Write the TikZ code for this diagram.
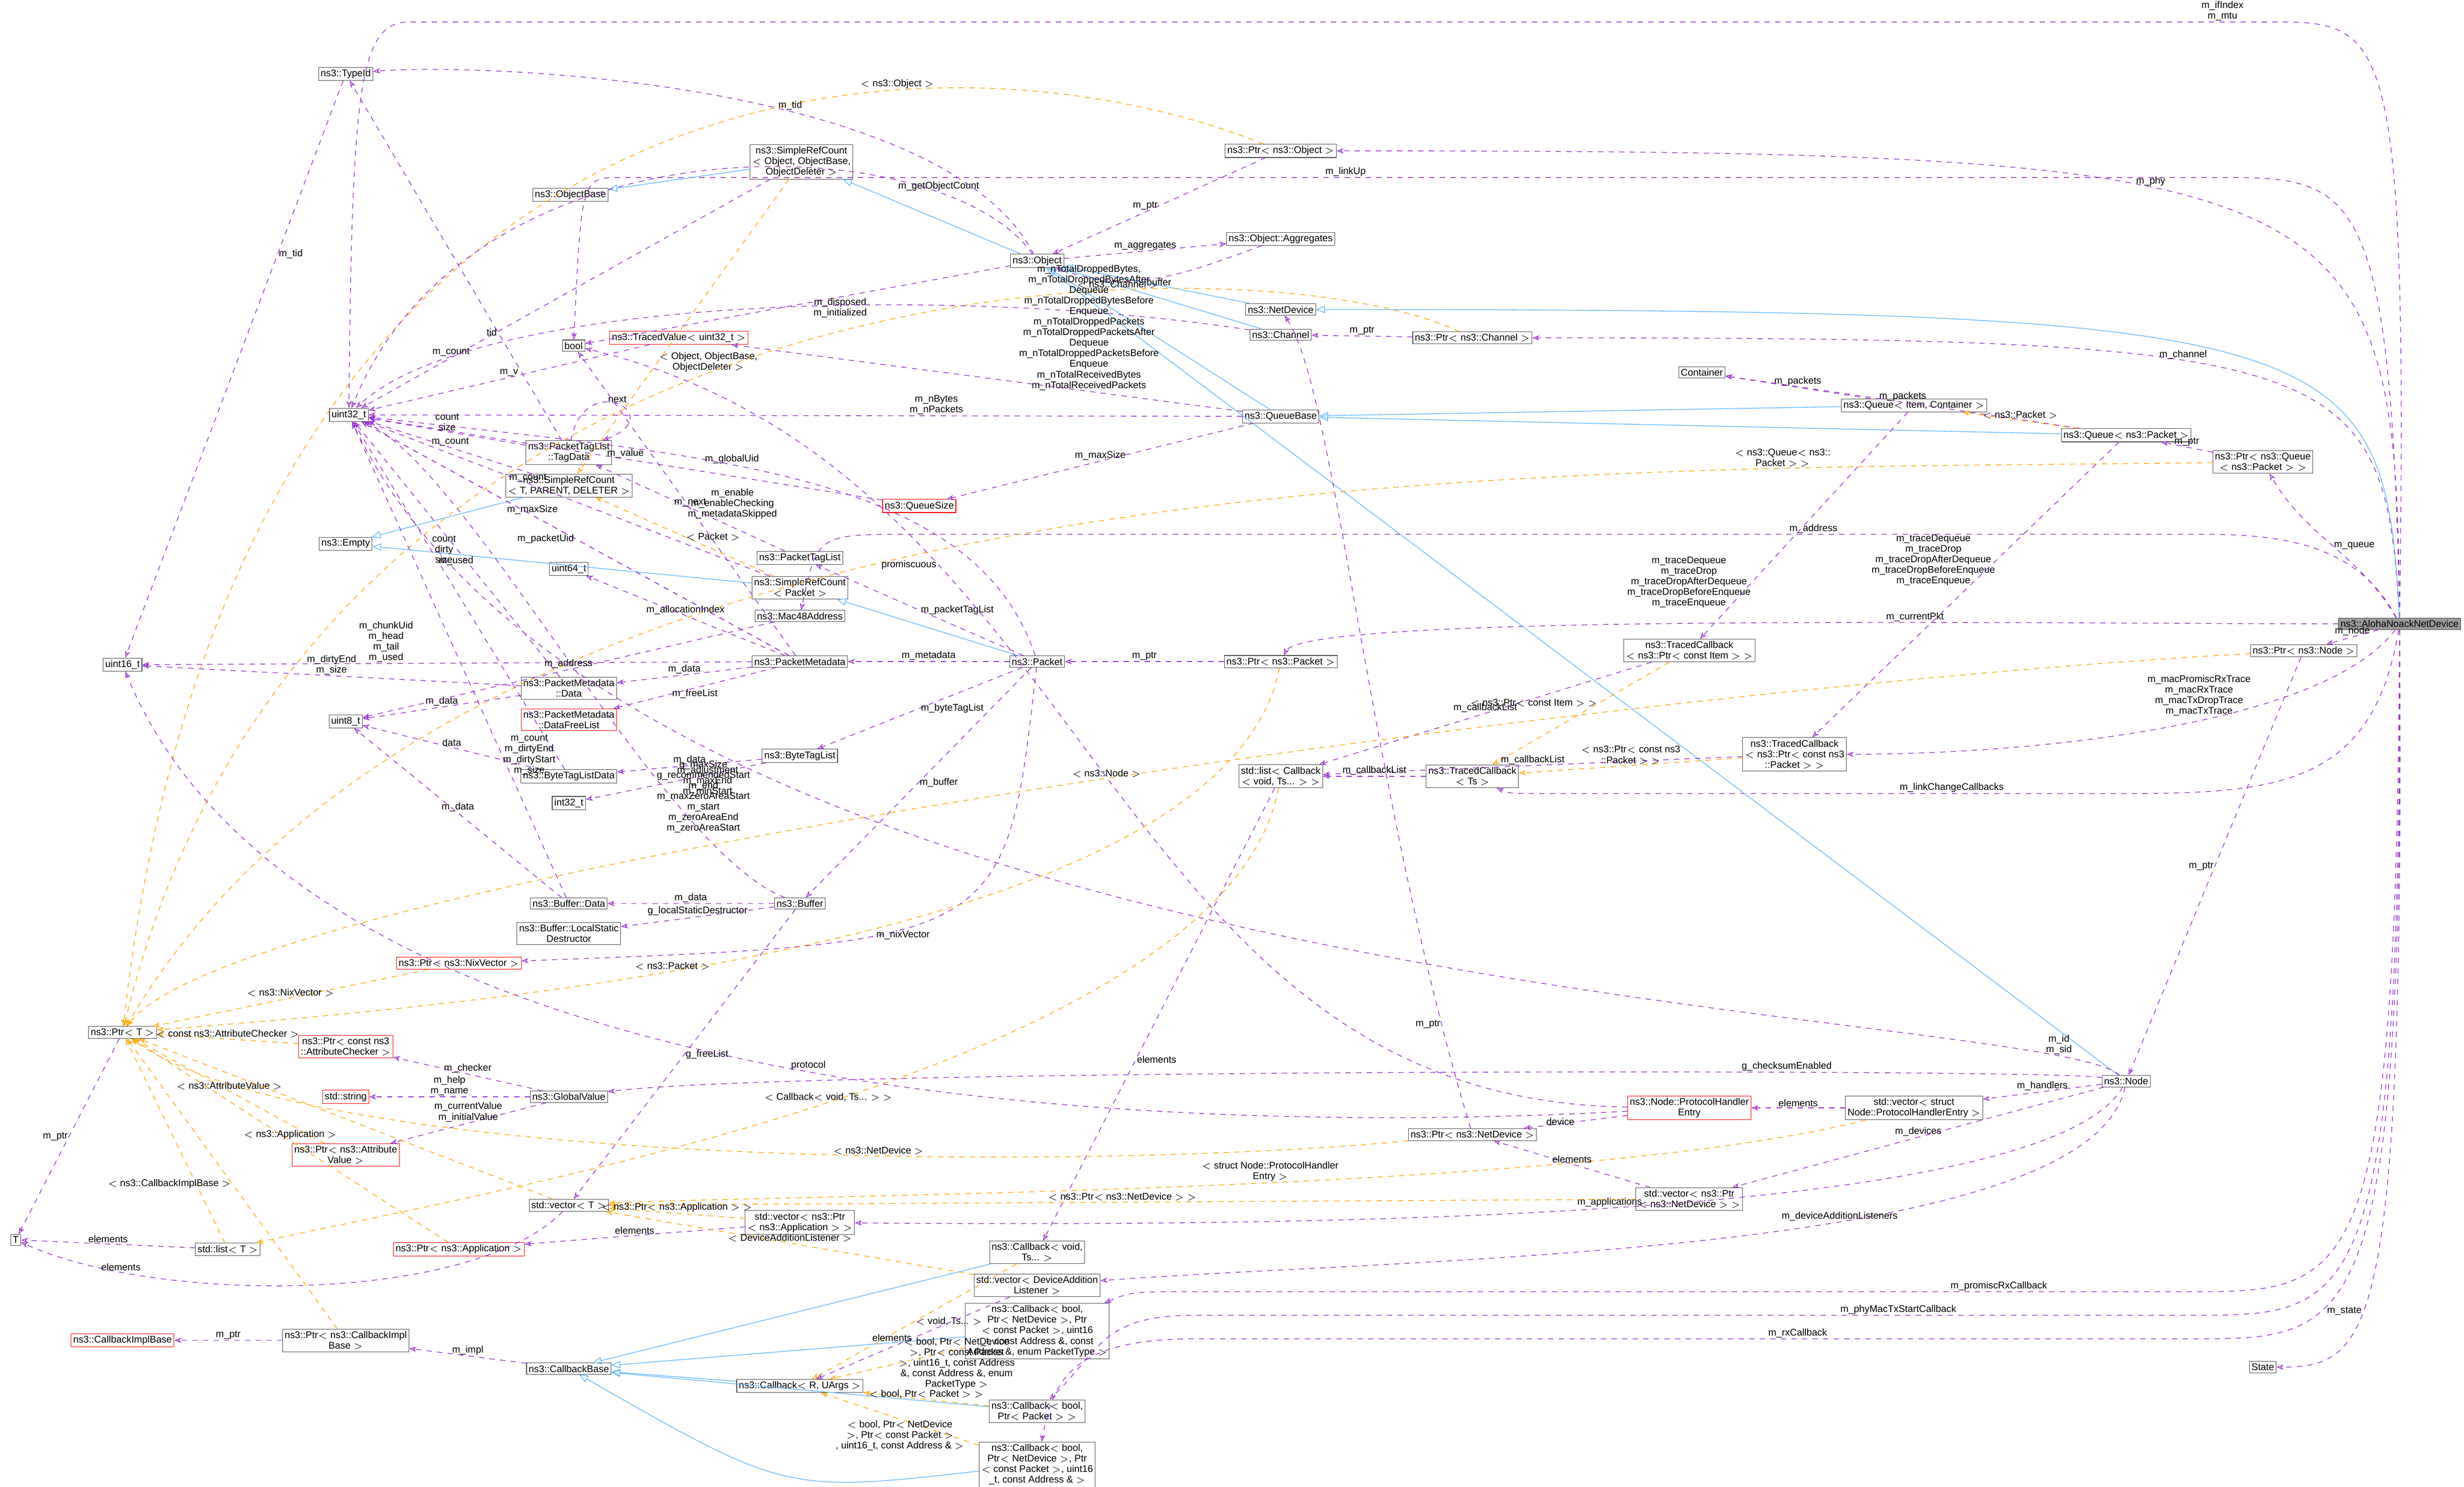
\documentclass[tikz,border=0pt]{standalone}
\usepackage{fontspec}
\setmainfont{Liberation Sans}
\usetikzlibrary{arrows.meta}
\definecolor{memcol}{RGB}{154,50,205}
\definecolor{inhcol}{RGB}{99,184,255}
\definecolor{tplcol}{RGB}{255,165,0}
\tikzset{
  cls/.style={draw=black!70, fill=white, inner sep=1.2pt, font=\fontsize{5.5}{6}\selectfont, align=center, line width=0.3pt},
  bad/.style={cls, draw=red},
  hl/.style={cls, fill=black!40},
  mem/.style={draw=memcol, dashed, line width=0.4pt, -{Stealth[open, length=4pt]}},
  inh/.style={draw=inhcol, line width=0.4pt, -{Triangle[open, length=5pt]}},
  tpl/.style={draw=tplcol, dashed, line width=0.4pt, -{Stealth[open, length=4pt]}},
  lbl/.style={font=\fontsize{5.5}{6}\selectfont, align=center, inner sep=0.5pt, text=black}
}
\begin{document}
\begin{tikzpicture}[x=0.03133cm, y=-0.03133cm]
\useasboundingbox (0,0) rectangle (1568,946);

% classes
\node[hl] (alo) at (1527,397) {ns3::AlohaNoackNetDevice};
\node[cls] (tid) at (220,47) {ns3::TypeId};
\node[cls] (pobj) at (815,96) {ns3::Ptr$<$ ns3::Object $>$};
\node[cls] (srcobj) at (510,103) {ns3::SimpleRefCount\\$<$ Object, ObjectBase,\\ ObjectDeleter $>$};
\node[cls] (objbase) at (363,124) {ns3::ObjectBase};
\node[cls] (obj) at (660,166) {ns3::Object};
\node[cls] (aggr) at (815,152) {ns3::Object::Aggregates};
\node[cls] (netdev) at (815,197) {ns3::NetDevice};
\node[cls] (chan) at (815,213) {ns3::Channel};
\node[cls] (pchan) at (937,215) {ns3::Ptr$<$ ns3::Channel $>$};
\node[bad] (tval) at (432,215) {ns3::TracedValue$<$ uint32\_t $>$};
\node[cls] (bool) at (365,220) {bool};
\node[cls] (u32) at (222,264) {uint32\_t};
\node[cls] (cont) at (1083,237) {Container};
\node[cls] (qic) at (1218,258) {ns3::Queue$<$ Item, Container $>$};
\node[cls] (qbase) at (815,265) {ns3::QueueBase};
\node[cls] (qpkt) at (1353,277) {ns3::Queue$<$ ns3::Packet $>$};
\node[cls] (pq) at (1440,294) {ns3::Ptr$<$ ns3::Queue\\$<$ ns3::Packet $>$ $>$};
\node[cls] (tagdata) at (362,288) {ns3::PacketTagList\\::TagData};
\node[cls] (srct) at (362,309) {ns3::SimpleRefCount\\$<$ T, PARENT, DELETER $>$};
\node[bad] (qsize) at (585,322) {ns3::QueueSize};
\node[cls] (empty) at (220,346) {ns3::Empty};
\node[cls] (ptl) at (509,355) {ns3::PacketTagList};
\node[cls] (u64) at (362,362) {uint64\_t};
\node[cls] (srcpkt) at (509,374) {ns3::SimpleRefCount\\$<$ Packet $>$};
\node[cls] (mac) at (509,392) {ns3::Mac48Address};
\node[cls] (u16) at (78,423) {uint16\_t};
\node[cls] (pmeta) at (509,421) {ns3::PacketMetadata};
\node[cls] (pkt) at (660,421) {ns3::Packet};
\node[cls] (ppkt) at (815,421) {ns3::Ptr$<$ ns3::Packet $>$};
\node[cls] (tcitem) at (1075,414) {ns3::TracedCallback\\$<$ ns3::Ptr$<$ const Item $>$ $>$};
\node[cls] (pnode) at (1466,414) {ns3::Ptr$<$ ns3::Node $>$};
\node[cls] (pmdata) at (362,438) {ns3::PacketMetadata\\::Data};
\node[cls] (u8) at (220,459) {uint8\_t};
\node[bad] (pmfree) at (362,458) {ns3::PacketMetadata\\::DataFreeList};
\node[cls] (btl) at (509,481) {ns3::ByteTagList};
\node[cls] (tcpkt) at (1142,480) {ns3::TracedCallback\\$<$ ns3::Ptr$<$ const ns3\\::Packet $>$ $>$};
\node[cls] (lcb) at (815,494) {std::list$<$ Callback\\$<$ void, Ts... $>$ $>$};
\node[cls] (tcts) at (937,494) {ns3::TracedCallback\\$<$ Ts $>$};
\node[cls] (btld) at (362,494) {ns3::ByteTagListData};
\node[cls] (i32) at (362,511) {int32\_t};
\node[cls] (bdata) at (362,575) {ns3::Buffer::Data};
\node[cls] (buf) at (509,575) {ns3::Buffer};
\node[cls] (blsd) at (362,594) {ns3::Buffer::LocalStatic\\Destructor};
\node[bad] (pnix) at (292,613) {ns3::Ptr$<$ ns3::NixVector $>$};
\node[cls] (pt) at (78,657) {ns3::Ptr$<$ T $>$};
\node[bad] (pchk) at (220,666) {ns3::Ptr$<$ const ns3\\::AttributeChecker $>$};
\node[cls] (node) at (1353,688) {ns3::Node};
\node[bad] (str) at (220,698) {std::string};
\node[cls] (gval) at (362,698) {ns3::GlobalValue};
\node[bad] (phe) at (1075,705) {ns3::Node::ProtocolHandler\\Entry};
\node[cls] (vphe) at (1218,705) {std::vector$<$ struct\\Node::ProtocolHandlerEntry $>$};
\node[bad] (pattr) at (220,735) {ns3::Ptr$<$ ns3::Attribute\\Value $>$};
\node[cls] (pnd) at (937,722) {ns3::Ptr$<$ ns3::NetDevice $>$};
\node[cls] (vt) at (362,767) {std::vector$<$ T $>$};
\node[bad] (papp) at (292,795) {ns3::Ptr$<$ ns3::Application $>$};
\node[cls] (vapp) at (509,778) {std::vector$<$ ns3::Ptr\\$<$ ns3::Application $>$ $>$};
\node[cls] (vnd) at (1075,763) {std::vector$<$ ns3::Ptr\\$<$ ns3::NetDevice $>$ $>$};
\node[cls] (tt) at (10,789) {T};
\node[cls] (lt) at (145,795) {std::list$<$ T $>$};
\node[cls] (cbvoid) at (660,797) {ns3::Callback$<$ void,\\Ts... $>$};
\node[cls] (vdal) at (660,818) {std::vector$<$ DeviceAddition\\Listener $>$};
\node[cls] (cbprom) at (660,847) {ns3::Callback$<$ bool,\\Ptr$<$ NetDevice $>$, Ptr\\$<$ const Packet $>$, uint16\\\_t, const Address \&, const\\Address \&, enum PacketType $>$};
\node[bad] (cbimpl) at (78,853) {ns3::CallbackImplBase};
\node[cls] (pcbimpl) at (220,853) {ns3::Ptr$<$ ns3::CallbackImpl\\Base $>$};
\node[cls] (cbbase) at (362,871) {ns3::CallbackBase};
\node[cls] (cbru) at (509,882) {ns3::Callback$<$ R, UArgs $>$};
\node[cls] (cbtx) at (660,898) {ns3::Callback$<$ bool,\\Ptr$<$ Packet $>$ $>$};
\node[cls] (cbrx) at (660,932) {ns3::Callback$<$ bool,\\Ptr$<$ NetDevice $>$, Ptr\\$<$ const Packet $>$, uint16\\\_t, const Address \& $>$};
\node[cls] (state) at (1440,870) {State};

% members of the device
\draw[mem] (alo) .. controls (1532,25) and (1520,14) .. (1450,14) -- node[lbl,pos=0.03,above]{m\_ifIndex\\m\_mtu} (260,14) .. controls (228,14) and (224,60) .. (u32);
\draw[mem] (alo) .. controls (1525,110) and (1500,96) .. node[lbl,pos=0.6,above]{m\_phy} (pobj);
\draw[mem] (alo) .. controls (1522,125) and (1500,113) .. (1420,113) -- node[lbl,pos=0.55,above]{m\_linkUp} (395,113) .. controls (370,113) .. (bool);
\draw[mem] (alo) .. controls (1518,225) and (1490,215) .. node[lbl,pos=0.6,above]{m\_channel} (pchan);
\draw[mem] (alo) to[out=120,in=-60] node[lbl,pos=0.5,right]{m\_queue} (pq);
\draw[mem] (alo) .. controls (1500,345) and (1450,340) .. (1400,340) -- node[lbl,pos=0.3,above]{m\_address} (580,340) .. controls (520,340) .. (mac);
\draw[mem] (alo) .. controls (1300,397) and (830,390) .. node[lbl,pos=0.35,above]{m\_currentPkt} (ppkt);
\draw[mem] (alo) -- node[lbl,pos=0.5,above]{m\_node} (pnode);
\draw[mem] (alo) .. controls (1480,460) and (1300,480) .. node[lbl,pos=0.45,above=2pt]{m\_macPromiscRxTrace\\m\_macRxTrace\\m\_macTxDropTrace\\m\_macTxTrace} (tcpkt);
\draw[mem] (alo) .. controls (1510,500) and (1450,505) .. (1350,505) -- node[lbl,pos=0.3,above]{m\_linkChangeCallbacks} (990,505) .. controls (960,505) .. (tcts);
\draw[mem] (alo) .. controls (1525,810) and (1500,822) .. (1400,822) -- node[lbl,pos=0.2,above]{m\_promiscRxCallback} (760,822) .. controls (720,822) .. (cbprom);
\draw[mem] (alo) .. controls (1528,830) and (1500,837) .. (1400,837) -- node[lbl,pos=0.3,above]{m\_phyMacTxStartCallback} (760,837) .. controls (700,837) and (700,860) .. (cbtx);
\draw[mem] (alo) .. controls (1530,845) and (1500,852) .. (1400,852) -- node[lbl,pos=0.4,above]{m\_rxCallback} (760,852) .. controls (680,852) and (670,880) .. (cbrx);
\draw[mem] (alo) .. controls (1530,850) and (1510,870) .. node[lbl,pos=0.6,left]{m\_state} (state);
\draw[inh] (alo) .. controls (1518,210) and (1490,197) .. (netdev);

% object
\draw[mem] (pobj) -- node[lbl,pos=0.5,left]{m\_ptr} (obj);
\draw[tpl] (pobj) .. controls (600,10) and (150,20) .. node[lbl,pos=0.3,above]{$<$ ns3::Object $>$} (pt);
\draw[mem] (tid) -- node[lbl,pos=0.3,right]{m\_tid} (u16);
\draw[mem] (obj) .. controls (600,50) and (300,40) .. node[lbl,pos=0.4,above]{m\_tid} (tid);
\draw[mem] (srcobj) -- node[lbl,pos=0.78,above]{m\_count} (u32);
\draw[tpl] (srcobj) -- node[lbl,pos=0.62,right]{$<$ Object, ObjectBase,\\ObjectDeleter $>$} (srct);
\draw[inh] (srcobj) -- (objbase);
\draw[inh] (obj) -- (srcobj);
\draw[mem] (obj) .. controls (600,80) and (300,70) .. node[lbl,pos=0.2,above]{m\_getObjectCount} (u32);
\draw[mem] (obj) -- node[lbl,pos=0.4,below]{m\_disposed\\m\_initialized} (bool);
\draw[mem] (obj) -- node[lbl,pos=0.5,above]{m\_aggregates} (aggr);
\draw[mem] (aggr) to[out=-160,in=-20] node[lbl,pos=0.5,below]{buffer} (obj);
\draw[inh] (netdev) -- (obj);
\draw[inh] (chan) -- (obj);
\draw[inh] (qbase) -- (obj);
\draw[inh] (node) -- (obj);
\draw[mem] (pchan) -- node[lbl,pos=0.5,above]{m\_ptr} (chan);
\draw[tpl] (pchan) .. controls (800,150) and (200,150) .. node[lbl,pos=0.3,above]{$<$ ns3::Channel $>$} (pt);
\draw[mem] (chan) .. controls (600,180) and (300,190) .. (u32);
\draw[mem] (tval) -- node[lbl,pos=0.5,above]{m\_v} (u32);

% queues
\draw[mem] (qbase) -- node[lbl,pos=0.3,above]{m\_nTotalDroppedBytes,\\m\_nTotalDroppedBytesAfter\\Dequeue\\m\_nTotalDroppedBytesBefore\\Enqueue\\m\_nTotalDroppedPackets\\m\_nTotalDroppedPacketsAfter\\Dequeue\\m\_nTotalDroppedPacketsBefore\\Enqueue\\m\_nTotalReceivedBytes\\m\_nTotalReceivedPackets} (tval);
\draw[mem] (qbase) -- node[lbl,pos=0.35,above]{m\_nBytes\\m\_nPackets} (u32);
\draw[mem] (qbase) -- node[lbl,pos=0.5,above]{m\_maxSize} (qsize);
\draw[mem] (qsize) -- node[lbl,pos=0.5,above]{m\_value} (u32);
\draw[inh] (qic) -- (qbase);
\draw[inh] (qpkt) -- (qbase);
\draw[mem] (qic) -- node[lbl,pos=0.5,above]{m\_packets} (cont);
\draw[mem] (qpkt) -- node[lbl,pos=0.5,above]{m\_packets} (cont);
\draw[tpl] (qpkt) -- node[lbl,pos=0.5,above]{$<$ ns3::Packet $>$} (qic);
\draw[mem] (qic) -- node[lbl,pos=0.75,left]{m\_traceDequeue\\m\_traceDrop\\m\_traceDropAfterDequeue\\m\_traceDropBeforeEnqueue\\m\_traceEnqueue} (tcitem);
\draw[mem] (qpkt) -- node[lbl,pos=0.4,left]{m\_traceDequeue\\m\_traceDrop\\m\_traceDropAfterDequeue\\m\_traceDropBeforeEnqueue\\m\_traceEnqueue} (tcpkt);
\draw[mem] (pq) -- node[lbl,pos=0.5,above]{m\_ptr} (qpkt);
\draw[tpl] (pq) .. controls (1000,300) and (300,280) .. node[lbl,pos=0.2,above]{$<$ ns3::Queue$<$ ns3::\\Packet $>$ $>$} (pt);

% packet internals
\draw[mem] (tagdata) -- node[lbl,pos=0.5,above]{count\\size} (u32);
\draw[mem] (tagdata) to[out=80,in=20,looseness=6] node[lbl,pos=0.5,above]{next} (tagdata);
\draw[mem] (tagdata) -- node[lbl,pos=0.3,left]{tid} (tid);
\draw[mem] (srct) -- node[lbl,pos=0.5,above]{m\_count} (u32);
\draw[inh] (srct) -- (empty);
\draw[inh] (srcpkt) -- (empty);
\draw[mem] (srcpkt) -- node[lbl,pos=0.6,above]{m\_count} (u32);
\draw[tpl] (srcpkt) -- node[lbl,pos=0.5,right]{$<$ Packet $>$} (srct);
\draw[mem] (ptl) -- node[lbl,pos=0.5,above]{m\_next} (tagdata);
\draw[inh] (pkt) -- (srcpkt);
\draw[mem] (pkt) -- node[lbl,pos=0.5,right]{m\_packetTagList} (ptl);
\draw[mem] (pkt) -- node[lbl,pos=0.5,above]{m\_metadata} (pmeta);
\draw[mem] (pkt) -- node[lbl,pos=0.5,right]{m\_byteTagList} (btl);
\draw[mem] (pkt) -- node[lbl,pos=0.5,right]{m\_buffer} (buf);
\draw[mem] (pkt) .. controls (640,600) .. node[lbl,pos=0.6,below]{m\_nixVector} (pnix);
\draw[mem] (pkt) .. controls (620,300) and (450,290) .. node[lbl,pos=0.6,above]{m\_globalUid} (u32);
\draw[mem] (pmeta) -- node[lbl,pos=0.5,above]{m\_allocationIndex} (u64);
\draw[mem] (pmeta) -- node[lbl,pos=0.5,right]{m\_enable\\m\_enableChecking\\m\_metadataSkipped} (bool);
\draw[mem] (pmeta) -- node[lbl,pos=0.6,above]{m\_maxSize} (u32);
\draw[mem] (pmeta) -- node[lbl,pos=0.6,above]{m\_chunkUid\\m\_head\\m\_tail\\m\_used} (u16);
\draw[mem] (pmeta) -- node[lbl,pos=0.5,above]{m\_data} (pmdata);
\draw[mem] (pmeta) -- node[lbl,pos=0.5,below]{m\_freeList} (pmfree);
\draw[mem] (pmeta) -- node[lbl,pos=0.5,left]{m\_packetUid} (u32);
\draw[mem] (pmdata) -- node[lbl,pos=0.5,above]{m\_dirtyEnd\\m\_size} (u16);
\draw[mem] (pmdata) -- node[lbl,pos=0.5,above]{m\_data} (u8);
\draw[mem] (pmdata) -- node[lbl,pos=0.5,left]{count\\dirty\\size} (u32);
\draw[mem] (btl) -- node[lbl,pos=0.5,above]{m\_data} (btld);
\draw[mem] (btl) -- node[lbl,pos=0.5,right]{m\_adjustment\\m\_maxEnd\\m\_minStart} (i32);
\draw[mem] (btld) -- node[lbl,pos=0.5,above]{data} (u8);
\draw[mem] (btld) -- node[lbl,pos=0.6,right]{m\_used} (u32);
\draw[mem] (buf) -- node[lbl,pos=0.5,above]{m\_data} (bdata);
\draw[mem] (buf) -- node[lbl,pos=0.5,above]{g\_localStaticDestructor} (blsd);
\draw[mem] (buf) .. controls (420,540) and (300,300) .. node[lbl,pos=0.2,above]{g\_maxSize\\g\_recommendedStart\\m\_end\\m\_maxZeroAreaStart\\m\_start\\m\_zeroAreaEnd\\m\_zeroAreaStart} (u32);
\draw[mem] (buf) -- node[lbl,pos=0.5,right]{g\_freeList} (vt);
\draw[mem] (bdata) -- node[lbl,pos=0.5,above]{m\_data} (u8);
\draw[mem] (bdata) -- node[lbl,pos=0.3,right]{m\_count\\m\_dirtyEnd\\m\_dirtyStart\\m\_size} (u32);
\draw[tpl] (pnix) -- node[lbl,pos=0.5,above]{$<$ ns3::NixVector $>$} (pt);
\draw[mem] (ppkt) -- node[lbl,pos=0.5,above]{m\_ptr} (pkt);
\draw[tpl] (ppkt) .. controls (780,600) and (300,640) .. node[lbl,pos=0.6,above]{$<$ ns3::Packet $>$} (pt);
\draw[mem] (mac) -- node[lbl,pos=0.5,above]{m\_address} (u8);

% callbacks and traces
\draw[mem] (tcitem) -- node[lbl,pos=0.5,above]{m\_callbackList} (lcb);
\draw[tpl] (tcitem) -- node[lbl,pos=0.4,left]{$<$ ns3::Ptr$<$ const Item $>$ $>$} (tcts);
\draw[mem] (tcpkt) -- node[lbl,pos=0.5,above]{m\_callbackList} (lcb);
\draw[tpl] (tcpkt) -- node[lbl,pos=0.5,above]{$<$ ns3::Ptr$<$ const ns3\\::Packet $>$ $>$} (tcts);
\draw[mem] (tcts) -- node[lbl,pos=0.5,above]{m\_callbackList} (lcb);
\draw[tpl] (lcb) .. controls (780,680) and (300,760) .. node[lbl,pos=0.5,above]{$<$ Callback$<$ void, Ts... $>$ $>$} (lt);
\draw[mem] (lcb) -- node[lbl,pos=0.6,right]{elements} (cbvoid);
\draw[mem] (pnode) -- node[lbl,pos=0.5,left]{m\_ptr} (node);
\draw[tpl] (pnode) .. controls (1000,440) and (150,560) .. node[lbl,pos=0.45,above]{$<$ ns3::Node $>$} (pt);

% node
\draw[mem] (node) .. controls (1300,640) and (400,640) .. node[lbl,pos=0.1,above]{m\_id\\m\_sid} (u32);
\draw[mem] (node) .. controls (1300,680) and (500,680) .. node[lbl,pos=0.3,above]{g\_checksumEnabled} (gval);
\draw[mem] (node) -- node[lbl,pos=0.5,above]{m\_handlers} (vphe);
\draw[mem] (node) -- node[lbl,pos=0.5,above]{m\_devices} (vnd);
\draw[mem] (node) .. controls (1300,780) and (800,780) .. node[lbl,pos=0.5,above]{m\_applications} (vapp);
\draw[mem] (node) .. controls (1330,800) and (900,800) .. node[lbl,pos=0.4,above]{m\_deviceAdditionListeners} (vdal);
\draw[mem] (phe) -- node[lbl,pos=0.5,left]{device} (pnd);
\draw[mem] (phe) .. controls (700,700) and (700,300) .. node[lbl,pos=0.7,left]{promiscuous} (bool);
\draw[mem] (phe) .. controls (800,720) and (200,720) .. node[lbl,pos=0.5,above]{protocol} (u16);
\draw[mem] (vphe) -- node[lbl,pos=0.5,above]{elements} (phe);
\draw[tpl] (vphe) .. controls (1000,760) and (500,760) .. node[lbl,pos=0.45,above]{$<$ struct Node::ProtocolHandler\\Entry $>$} (vt);
\draw[mem] (pnd) .. controls (870,500) and (850,250) .. node[lbl,pos=0.1,left]{m\_ptr} (netdev);
\draw[tpl] (pnd) .. controls (700,745) and (200,745) .. node[lbl,pos=0.4,above]{$<$ ns3::NetDevice $>$} (pt);
\draw[mem] (vnd) -- node[lbl,pos=0.5,above]{elements} (pnd);
\draw[tpl] (vnd) -- node[lbl,pos=0.5,above]{$<$ ns3::Ptr$<$ ns3::NetDevice $>$ $>$} (vt);

% attributes
\draw[mem] (gval) -- node[lbl,pos=0.5,above]{m\_checker} (pchk);
\draw[mem] (gval) -- node[lbl,pos=0.5,above]{m\_help\\m\_name} (str);
\draw[mem] (gval) -- node[lbl,pos=0.5,above]{m\_currentValue\\m\_initialValue} (pattr);
\draw[tpl] (pchk) -- node[lbl,pos=0.5,above]{$<$ const ns3::AttributeChecker $>$} (pt);
\draw[tpl] (pattr) -- node[lbl,pos=0.5,above]{$<$ ns3::AttributeValue $>$} (pt);
\draw[mem] (vt) .. controls (300,830) and (100,830) .. node[lbl,pos=0.8,above]{elements} (tt);
\draw[mem] (lt) -- node[lbl,pos=0.5,above]{elements} (tt);
\draw[mem] (pt) -- node[lbl,pos=0.5,left]{m\_ptr} (tt);
\draw[tpl] (lt) -- (pt);
\draw[tpl] (vt) -- (pt);
\draw[mem] (vapp) -- node[lbl,pos=0.5,above]{elements} (papp);
\draw[tpl] (vapp) -- node[lbl,pos=0.5,above]{$<$ ns3::Ptr$<$ ns3::Application $>$ $>$} (vt);
\draw[tpl] (papp) -- node[lbl,pos=0.5,above]{$<$ ns3::Application $>$} (pt);

% callback classes
\draw[inh] (cbvoid) -- (cbbase);
\draw[tpl] (cbvoid) -- node[lbl,pos=0.5,right]{$<$ void, Ts... $>$} (cbru);
\draw[mem] (vdal) -- node[lbl,pos=0.5,left]{elements} (cbru);
\draw[tpl] (vdal) -- node[lbl,pos=0.5,above]{$<$ DeviceAdditionListener $>$} (vt);
\draw[inh] (cbprom) -- (cbbase);
\draw[tpl] (cbprom) -- node[lbl,pos=0.5,right]{$<$ bool, Ptr$<$ NetDevice\\$>$, Ptr$<$ const Packet\\$>$, uint16\_t, const Address\\\&, const Address \&, enum\\PacketType $>$} (cbru);
\draw[inh] (cbtx) -- (cbbase);
\draw[tpl] (cbtx) -- node[lbl,pos=0.5,above]{$<$ bool, Ptr$<$ Packet $>$ $>$} (cbru);
\draw[inh] (cbrx) .. controls (500,950) .. (cbbase);
\draw[tpl] (cbrx) -- node[lbl,pos=0.5,below]{$<$ bool, Ptr$<$ NetDevice\\$>$, Ptr$<$ const Packet $>$\\, uint16\_t, const Address \& $>$} (cbru);
\draw[inh] (cbru) -- (cbbase);
\draw[mem] (cbbase) -- node[lbl,pos=0.5,above]{m\_impl} (pcbimpl);
\draw[mem] (pcbimpl) -- node[lbl,pos=0.5,above]{m\_ptr} (cbimpl);
\draw[tpl] (pcbimpl) -- node[lbl,pos=0.5,left]{$<$ ns3::CallbackImplBase $>$} (pt);
\end{tikzpicture}
\end{document}
